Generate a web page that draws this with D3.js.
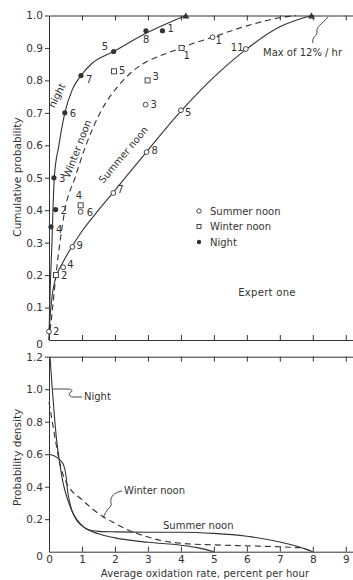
<!DOCTYPE html>
<html>
<head>
<meta charset="utf-8">
<script src="https://cdn.jsdelivr.net/npm/d3@7"></script>
<style>
  body { margin: 0; background: #fff; }
  text { font-family: "DejaVu Sans", sans-serif; fill: #333; }
</style>
</head>
<body>
<div id="chart"></div>
<script>
// cumulative curves (rate %/hr, probability)
const nightCum = [[0,0],[0.02,0.1],[0.05,0.2],[0.09,0.3],[0.12,0.4],[0.16,0.5],[0.3,0.6],[0.48,0.7],[0.7,0.77],[0.97,0.815],[1.3,0.852],[1.96,0.889],[2.94,0.945],[4.15,1.0]];
const winterCum = [[0,0],[0.11,0.1],[0.21,0.2],[0.33,0.3],[0.48,0.4],[0.79,0.5],[1.12,0.6],[1.55,0.7],[2.25,0.8],[4.0,0.9],[4.96,0.933],[6,0.968],[7.1,0.995],[7.5,1.0]];
const summerCum = [[0,0.02],[0.04,0.08],[0.1,0.14],[0.2,0.19],[0.4,0.235],[0.71,0.29],[1.0,0.335],[1.5,0.4],[1.95,0.455],[2.96,0.58],[4.0,0.705],[5.0,0.81],[5.97,0.895],[7,0.965],[7.96,1.0]];

// expert estimates: [rate, probability, expert number]
const nightPts = [[0.06,0.349,"4"],[0.2,0.402,"2"],[0.15,0.5,"3"],[0.48,0.7,"6"],[0.97,0.815,"7"],[1.96,0.889,"5"],[2.94,0.953,"8"],[3.44,0.953,"1"]];
const winterPts = [[0.21,0.2,"2"],[0.96,0.415,"4"],[1.97,0.828,"5"],[2.99,0.8,"3"],[4.02,0.9,"1"]];
const summerPts = [[0,0.026,"2"],[0.43,0.224,"4"],[0.71,0.287,"9"],[0.96,0.395,"6"],[1.95,0.453,"7"],[2.96,0.579,"8"],[2.93,0.725,"3"],[4.0,0.708,"5"],[5.97,0.897,"11"],[4.96,0.933,"1"]];
const maxPts = [[4.15,1.0],[7.96,1.0]];

// density curves
const nightDen = [[0.03,1.2],[0.1,1.0],[0.17,0.82],[0.23,0.69],[0.3,0.58],[0.43,0.42],[0.55,0.33],[0.7,0.25],[1.0,0.16],[1.5,0.11],[2,0.085],[3,0.058],[4,0.04],[4.5,0.025],[5,0]];
const winterDen = [[0,0.92],[0.1,0.8],[0.2,0.68],[0.3,0.57],[0.45,0.46],[0.6,0.4],[1,0.32],[1.5,0.235],[2,0.175],[2.5,0.125],[3,0.09],[3.5,0.065],[4,0.052],[5,0.042],[6,0.036],[7,0.03],[7.6,0.024],[8,0.0]];
const summerDen = [[0,0.6],[0.15,0.59],[0.33,0.565],[0.45,0.53],[0.52,0.46],[0.56,0.38],[0.62,0.31],[0.7,0.25],[0.85,0.19],[1,0.16],[1.2,0.135],[1.5,0.125],[2,0.122],[3,0.12],[4,0.12],[5,0.113],[6,0.095],[7,0.06],[7.5,0.035],[8,0]];

const xTickVals = [0,1,2,3,4,5,6,7,8,9];
const cumTicks = [0,0.1,0.2,0.3,0.4,0.5,0.6,0.7,0.8,0.9,1.0];
const denTicks = [0,0.2,0.4,0.6,0.8,1.0,1.2];

const width = 353, height = 580;
const ink = "#333";

const svg = d3.select("#chart").append("svg")
  .attr("width", width).attr("height", height);

const x = d3.scaleLinear().domain([0, 9.25]).range([49, 354]);
const yTop = d3.scaleLinear().domain([0, 1]).range([340, 15.5]);
const yBot = d3.scaleLinear().domain([0, 1.2]).range([551.7, 356.7]);

const fmt = d => d === 0 ? "0" : d3.format(".1f")(d);

function styleAxis(g) {
  g.selectAll("path, line").attr("stroke", ink).attr("stroke-width", 1);
  g.selectAll("text").attr("fill", ink).attr("font-size", "10.5px")
    .attr("font-family", "DejaVu Sans, sans-serif");
}

// frames for both panels
[[yTop, cumTicks], [yBot, denTicks]].forEach(([y, ticks]) => {
  const [y0, y1] = y.range();
  // top edge, ticks inward
  svg.append("g").attr("transform", `translate(0,${y1})`)
    .call(d3.axisBottom(x).tickValues(xTickVals.slice(1)).tickSize(5).tickSizeOuter(0).tickFormat(""))
    .call(styleAxis);
  // bottom edge, ticks inward
  svg.append("g").attr("transform", `translate(0,${y0})`)
    .call(d3.axisTop(x).tickValues(xTickVals.slice(1)).tickSize(5).tickSizeOuter(0).tickFormat(""))
    .call(styleAxis);
  // left axis
  const ga = svg.append("g").attr("transform", `translate(${x(0)},0)`)
    .call(d3.axisLeft(y).tickValues(ticks).tickSize(4).tickSizeOuter(0).tickFormat(fmt).tickPadding(2))
    .call(styleAxis);
  ga.selectAll(".tick").filter(d => d === 0).select("line").remove();
  ga.selectAll(".tick").filter(d => d === 0).select("text").attr("dy", "0.7em");
});

// bottom tick labels
svg.append("g").attr("transform", `translate(0,${yBot(0)})`)
  .call(d3.axisBottom(x).tickValues(xTickVals).tickSize(0).tickPadding(4).tickFormat(d3.format("d")))
  .call(styleAxis)
  .call(g => g.select(".domain").remove());

// axis titles
svg.append("text").attr("transform", `translate(21,177) rotate(-90)`)
  .attr("text-anchor", "middle").attr("font-size", "10.5px").text("Cumulative probability");
svg.append("text").attr("transform", `translate(21,${yBot(0.58)}) rotate(-90)`)
  .attr("text-anchor", "middle").attr("font-size", "10.5px").text("Probability density");
svg.append("text").attr("x", 205).attr("y", 577)
  .attr("text-anchor", "middle").attr("font-size", "10px").attr("letter-spacing", "0.1px")
  .text("Average oxidation rate, percent per hour");

// curves
function drawLine(data, y, dashed) {
  svg.append("path").datum(data)
    .attr("fill", "none").attr("stroke", ink).attr("stroke-width", 1.1)
    .attr("stroke-dasharray", dashed ? "6,4" : null)
    .attr("d", d3.line().x(d => x(d[0])).y(d => y(d[1])).curve(d3.curveMonotoneX));
}
drawLine(nightCum, yTop, false);
drawLine(winterCum, yTop, true);
drawLine(summerCum, yTop, false);
drawLine(nightDen, yBot, false);
drawLine(winterDen, yBot, true);
drawLine(summerDen, yBot, false);

// markers and expert labels
const labelOffset = {
  "n4": [5, 6], "n2": [5, 4], "n3": [5, 4], "n6": [5, 4], "n7": [5, 7], "n5": [-12, -2], "n8": [-3, 12], "n1": [5, 1],
  "w2": [5, 4], "w4": [-5, -6], "w5": [5, 3], "w3": [5, 0], "w1": [2, 11],
  "s2": [4, 3], "s4": [4, 1], "s9": [4, 2], "s6": [6, 4], "s7": [4, 0], "s8": [5, 2], "s3": [5, 3], "s5": [4, 6], "s11": [-15, 2], "s1": [3, 7]
};
function drawPts(pts, kind) {
  const g = svg.append("g");
  pts.forEach(d => {
    const px = x(d[0]), py = yTop(d[1]);
    if (kind === "n") {
      g.append("circle").attr("cx", px).attr("cy", py).attr("r", 2.6).attr("fill", ink);
    } else if (kind === "s") {
      g.append("circle").attr("cx", px).attr("cy", py).attr("r", 2.4)
        .attr("fill", "#fff").attr("stroke", ink).attr("stroke-width", 0.9);
    } else {
      g.append("rect").attr("x", px - 2.5).attr("y", py - 2.5).attr("width", 5).attr("height", 5)
        .attr("fill", "#fff").attr("stroke", ink).attr("stroke-width", 0.9);
    }
    const off = labelOffset[kind + d[2]] || [4, 3];
    g.append("text").attr("x", px + off[0]).attr("y", py + off[1])
      .attr("font-size", "10px").text(d[2]);
  });
}
drawPts(winterPts, "w");
drawPts(summerPts, "s");
drawPts(nightPts, "n");

svg.selectAll(".maxmark").data(maxPts).enter().append("path")
  .attr("class", "maxmark")
  .attr("transform", d => `translate(${x(d[0])},${yTop(d[1]) + 1})`)
  .attr("d", d3.symbol(d3.symbolTriangle, 22))
  .attr("fill", ink);

// curve names, top panel
function rotLabel(txt, px, py, ang) {
  svg.append("text").attr("transform", `translate(${px},${py}) rotate(${ang})`)
    .attr("text-anchor", "middle").attr("font-size", "10px").text(txt);
}
rotLabel("night", 60, 97, -63);
rotLabel("Winter noon", 80.5, 150, -69);
rotLabel("Summer noon", 126, 157, -50);

// max note
svg.append("text").attr("x", 263).attr("y", 56).attr("font-size", "10px").text("Max of 12% / hr");
svg.append("path").attr("fill", "none").attr("stroke", ink).attr("stroke-width", 0.9)
  .attr("d", "M313,43 C311,37 318,36 317,31 C316,27 322,24 328,17");

// legend
const legendItems = ["Summer noon", "Winter noon", "Night"];
const lg = svg.append("g");
legendItems.forEach((name, i) => {
  const ly = 211 + i * 15.5;
  if (i === 0) lg.append("circle").attr("cx", 199).attr("cy", ly).attr("r", 2.2).attr("fill", "#fff").attr("stroke", ink).attr("stroke-width", 0.9);
  if (i === 1) lg.append("rect").attr("x", 197).attr("y", ly - 2).attr("width", 4).attr("height", 4).attr("fill", "#fff").attr("stroke", ink).attr("stroke-width", 0.9);
  if (i === 2) lg.append("circle").attr("cx", 199).attr("cy", ly).attr("r", 2.2).attr("fill", ink);
  lg.append("text").attr("x", 210).attr("y", ly + 3.5).attr("font-size", "10px").text(name);
});

svg.append("text").attr("x", 267).attr("y", 296).attr("text-anchor", "middle")
  .attr("font-size", "10px").attr("letter-spacing", "0.3px").text("Expert one");

// density panel labels with leaders
svg.append("text").attr("x", 84).attr("y", 400).attr("font-size", "10px").text("Night");
svg.append("path").attr("fill", "none").attr("stroke", ink).attr("stroke-width", 0.9)
  .attr("d", "M82,397 L73,397 C69,397 68,393 71,392 C73,391 72,389 68,389 L53,389");
svg.append("text").attr("x", 124).attr("y", 494).attr("font-size", "10px").text("Winter noon");
svg.append("path").attr("fill", "none").attr("stroke", ink).attr("stroke-width", 0.9)
  .attr("d", "M122,491 C116,492 112,495 111,499 C110,503 113,505 109,508 C106,511 105,514 103,518");
svg.append("text").attr("x", 163).attr("y", 529).attr("font-size", "10px").text("Summer noon");
</script>
</body>
</html>
